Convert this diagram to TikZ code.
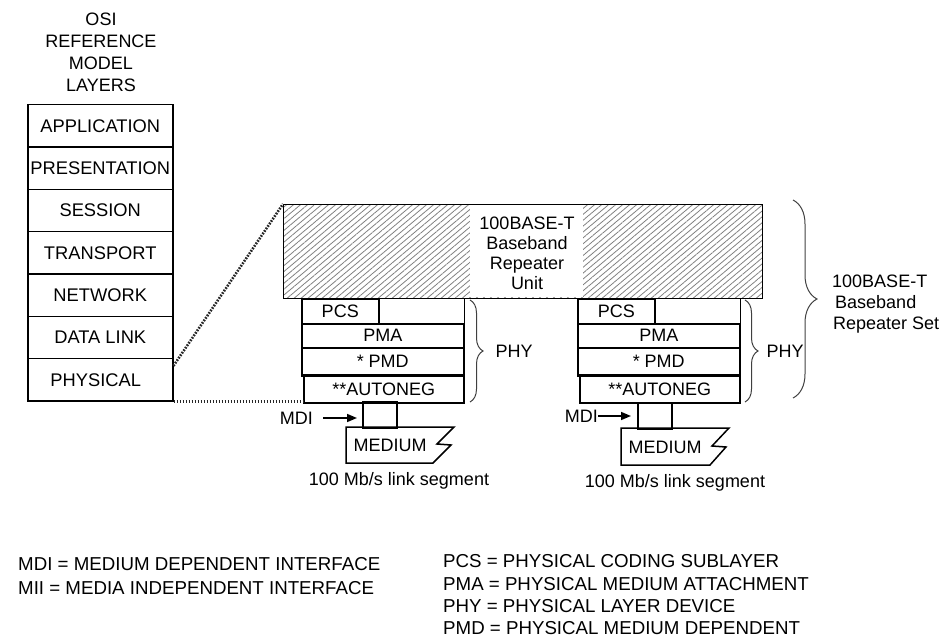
\documentclass[tikz,border=0pt]{standalone}
\usepackage{fontspec}
\setmainfont{Liberation Sans}
\usetikzlibrary{patterns.meta,decorations.pathreplacing,arrows.meta}
\begin{document}
\begin{tikzpicture}[x=1pt,y=-1pt,
  every node/.style={font=\fontsize{18}{20}\selectfont, inner sep=0pt},
  box/.style={draw, line width=1.5pt, anchor=north west, inner sep=0pt},
  osibox/.style={box, minimum width=145pt, minimum height=42.3pt, font=\fontsize{18.3}{20}\selectfont},
  dotline/.style={line width=2.6pt, dash pattern=on 1.7pt off 1.3pt, black!85},
  thickline/.style={line width=2.8pt},
  outline/.style={line width=1.5pt},
  bracestyle/.style={decorate, line width=1pt, black!75},
  arr/.style={-{Triangle[length=10pt,width=8pt]}, line width=1.5pt},
  legend/.style={anchor=west, font=\fontsize{18.7}{20}\selectfont},
]
\useasboundingbox (0,0) rectangle (948,639);

% OSI model
\node[align=center, font=\fontsize{18}{22}\selectfont] (osiTitle) at (101,52) {OSI\\REFERENCE\\MODEL\\LAYERS};
\node[osibox] (osiApp)  at (27,104)   {APPLICATION};
\node[osibox] (osiPres) at (27,146.3) {PRESENTATION};
\node[osibox] (osiSess) at (27,188.6) {SESSION};
\node[osibox] (osiTran) at (27,230.9) {TRANSPORT};
\node[osibox] (osiNet)  at (27,273.2) {NETWORK};
\node[osibox] (osiData) at (27,315.5) {DATA LINK};
\node[osibox] (osiPhys) at (27,357.8) {PHYSICAL\hspace*{9pt}};

% Repeater unit
\node[box, line width=1.6pt, minimum width=479pt, minimum height=94pt,
      pattern={Lines[angle=40,distance=4.5pt,line width=0.8pt]}, pattern color=black!50] (unit) at (283,204) {};
\node[fill=white, minimum width=113pt, minimum height=91pt] (unitGap) at (526.5,251) {};
\node[align=center] (unitTxt) at (527,253) {100BASE-T\\Baseband\\Repeater\\Unit};

% Left PHY stack
\node[box, minimum width=77pt, minimum height=25pt] (pcsA) at (301,298) {PCS};
\node[box, minimum width=162pt, minimum height=24pt] (pmaA) at (301,323) {PMA};
\node[box, minimum width=162pt, minimum height=27pt] (pmdA) at (301,347) {* PMD};
\node[box, minimum width=160pt, minimum height=27pt] (autoA) at (303,375) {**AUTONEG};
\draw[outline] (pmaA.north east) -- (pmaA.north east |- unit.south);
\draw[thickline] (pmdA.south west) -- (pmdA.south east);
\node[box, minimum width=34pt, minimum height=25pt] (mdiA) at (362,402) {};
\draw[thickline] (mdiA.north west) -- (mdiA.north east);
\draw[outline] (346,427) -- (454,427) -- (437,444) -- (451,445) -- (433,463) -- (346,463) -- cycle;
\node (medA) at (390,445) {MEDIUM};
\node (linkA) at (399,481) {100 Mb/s link segment};
\node[anchor=east] (mdiTxtA) at (313,418) {MDI};
\draw[arr, shorten <=10pt, shorten >=5pt] (mdiTxtA.east) -- (mdiTxtA.east -| mdiA.west);

% Right PHY stack
\node[box, minimum width=77pt, minimum height=25pt] (pcsB) at (577,298) {PCS};
\node[box, minimum width=162pt, minimum height=24pt] (pmaB) at (577,323) {PMA};
\node[box, minimum width=162pt, minimum height=27pt] (pmdB) at (577,347) {* PMD};
\node[box, minimum width=160pt, minimum height=27pt] (autoB) at (579,375) {**AUTONEG};
\draw[outline] (pmaB.north east) -- (pmaB.north east |- unit.south);
\draw[thickline] (pmdB.south west) -- (pmdB.south east);
\node[box, minimum width=34pt, minimum height=26pt] (mdiB) at (637,402) {};
\draw[outline] (621,428) -- (729,428) -- (712,446) -- (726,447) -- (710,465) -- (621,465) -- cycle;
\node (medB) at (665,447) {MEDIUM};
\node (linkB) at (675,483) {100 Mb/s link segment};
\node[anchor=east] (mdiTxtB) at (598,416) {MDI};
\draw[arr, shorten >=6pt] (mdiTxtB.east) -- (mdiTxtB.east -| mdiB.west);

% Braces
\coordinate (brAtop) at (470,300);
\coordinate (brAbot) at (470,402);
\coordinate (brBtop) at (745,300);
\coordinate (brBbot) at (745,402);
\coordinate (brStop) at (793,200);
\coordinate (brSbot) at (793,398);
\draw[bracestyle, decoration={brace, amplitude=13pt}] (brAtop) -- (brAbot);
\draw[bracestyle, decoration={brace, amplitude=13pt}] (brBtop) -- (brBbot);
\draw[bracestyle, decoration={brace, amplitude=24pt}] (brStop) -- (brSbot);
\node (phyA) at (514,351) {PHY};
\node (phyB) at (785,351) {PHY};
\node[anchor=west, align=left, font=\fontsize{18}{21}\selectfont] (setTxt) at (832,304) {100BASE-T\\\hspace*{3pt}Baseband\\\hspace*{1pt}Repeater Set};

% Dotted mapping lines
\draw[dotline] ([yshift=-8pt]osiPhys.north east) -- (unit.north west);
\draw[dotline] (osiPhys.south east) -- (osiPhys.south east -| autoA.west);

% Legend
\node[legend] (lgMDI) at (18,564) {MDI = MEDIUM DEPENDENT INTERFACE};
\node[legend] (lgMII) at (18,588) {MII = MEDIA INDEPENDENT INTERFACE};
\node[legend] (lgPCS) at (443,561) {PCS = PHYSICAL CODING SUBLAYER};
\node[legend] (lgPMA) at (443,584) {PMA = PHYSICAL MEDIUM ATTACHMENT};
\node[legend] (lgPHY) at (443,606) {PHY = PHYSICAL LAYER DEVICE};
\node[legend] (lgPMD) at (443,628) {PMD = PHYSICAL MEDIUM DEPENDENT};
\end{tikzpicture}
\end{document}
